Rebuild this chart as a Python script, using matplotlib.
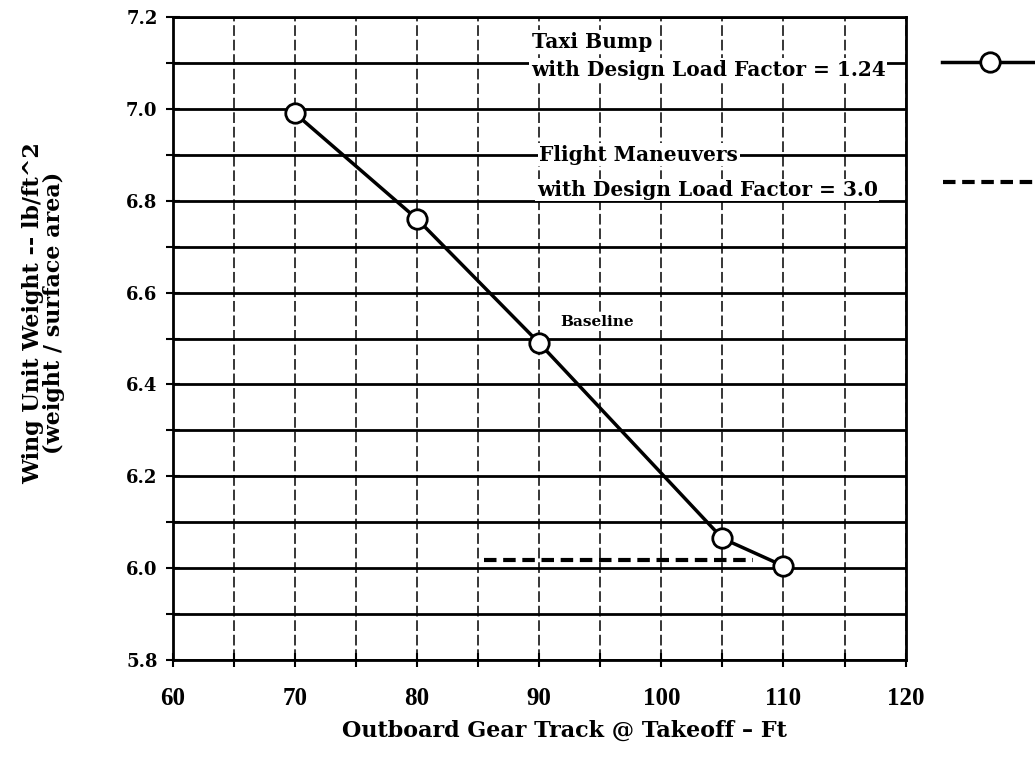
import numpy as np
import matplotlib
matplotlib.use('Agg')
import matplotlib.pyplot as plt
from matplotlib.lines import Line2D
from matplotlib.ticker import MultipleLocator

# taxi bump series (design load factor 1.24)
track = [70, 80, 90, 105, 110]
unit_wt = [6.99, 6.76, 6.49, 6.065, 6.005]
# flight maneuvers series (design load factor 3.0)
flt_track = [85.5, 107.5]
flt_wt = [6.017, 6.017]

xticks = [60, 70, 80, 90, 100, 110, 120]
yticks = [5.8, 6.0, 6.2, 6.4, 6.6, 6.8, 7.0, 7.2]

serif_w = ['DejaVu Serif']
serif_n = ['Liberation Serif', 'DejaVu Serif']

fig = plt.figure(figsize=(10.35, 7.65), dpi=100)
ax = fig.add_axes([0.167, 0.137, 0.708, 0.841])

ax.set_xlim(60, 120)
ax.set_ylim(5.8, 7.2)
ax.set_xticks(xticks)
ax.set_yticks(yticks)
ax.set_xticklabels([str(v) for v in xticks], fontsize=18, fontweight='bold', family=serif_n)
ax.set_yticklabels(['%.1f' % v for v in yticks], fontsize=13, fontweight='bold', family=serif_w)
ax.xaxis.set_minor_locator(MultipleLocator(5))
ax.yaxis.set_minor_locator(MultipleLocator(0.1))
ax.tick_params(which='both', direction='inout', length=10, width=1.5, color='k')
ax.tick_params(axis='x', pad=14)
ax.tick_params(axis='y', pad=6)

ax.grid(axis='y', which='both', color='k', lw=2.0, ls='-')
ax.grid(axis='x', which='both', color='k', lw=1.1, ls=(0, (7, 2.5)))
ax.set_axisbelow(True)
for s in ax.spines.values():
    s.set_linewidth(2)

ax.plot(track, unit_wt, '-', color='k', lw=2.5, marker='o', ms=14,
        mfc='white', mec='k', mew=2, zorder=5)
ax.plot(flt_track, flt_wt, color='k', lw=3, ls=(0, (3, 1.6)), zorder=4)

box = dict(facecolor='white', edgecolor='none', pad=1)
txt = dict(fontsize=14.5, fontweight='bold', family=serif_w, va='center', bbox=box)
ax.text(89.4, 7.146, 'Taxi Bump', **txt)
ax.text(89.3, 7.085, 'with Design Load Factor = 1.24', **txt)
ax.text(90.0, 6.90, 'Flight Maneuvers', **txt)
ax.text(89.8, 6.823, 'with Design Load Factor = 3.0', **txt)
ax.text(91.7, 6.535, 'Baseline', fontsize=11, fontweight='bold', family=serif_w,
        va='center', bbox=box)

ax.set_xlabel('Outboard Gear Track @ Takeoff \u2013 Ft', fontsize=16, fontweight='bold',
              family=serif_w)
ax.xaxis.set_label_coords(0.535, -0.093)
ax.set_ylabel('Wing Unit Weight -- lb/ft^2\n(weight / surface area)', fontsize=16,
              fontweight='bold', family=serif_w, linespacing=0.95)
ax.yaxis.set_label_coords(-0.147, 0.54)

h1 = Line2D([], [], color='k', lw=2.5, marker='o', ms=14, mfc='white', mec='k', mew=2)
h2 = Line2D([], [], color='k', lw=3, ls=(0, (3, 1.6)))
leg1 = ax.legend([h1], [''], loc='center left', bbox_to_anchor=(1.049, 0.928),
                 frameon=False, handlelength=7, borderpad=0, handletextpad=0,
                 borderaxespad=0)
ax.add_artist(leg1)
ax.legend([h2], [''], loc='center left', bbox_to_anchor=(1.051, 0.742),
          frameon=False, handlelength=7, borderpad=0, handletextpad=0,
          borderaxespad=0)

fig.savefig('out.png', dpi=100)
